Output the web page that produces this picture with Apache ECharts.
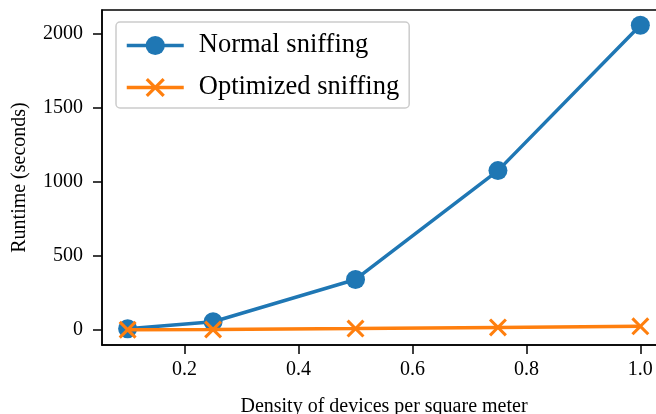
<!DOCTYPE html>
<html><head><meta charset="utf-8">
<script src="https://cdn.jsdelivr.net/npm/echarts@6/dist/echarts.min.js"></script>
<style>html,body{margin:0;padding:0;background:#fff}#c{width:656px;height:414px}</style>
</head><body><div id="c"></div>
<script>
const density = [0.1, 0.25, 0.5, 0.75, 1.0];
const normalRuntime = [8, 55, 341, 1077, 2060];
const optimizedRuntime = [1, 3, 9, 17, 24];
const xTicks = [0.2, 0.4, 0.6, 0.8, 1.0];
const yTicks = [0, 500, 1000, 1500, 2000];
const seriesNames = ['Normal sniffing', 'Optimized sniffing'];
const xLabel = 'Density of devices per square meter';
const yLabel = 'Runtime (seconds)';

const FONT = 'Liberation Serif';
const xMin = 0.055, xMax = 1.045, yMin = -102, yMax = 2163;
const crossPath = 'path://M0,1.2L1.2,0L5,3.8L8.8,0L10,1.2L6.2,5L10,8.8L8.8,10L5,6.2L1.2,10L0,8.8L3.8,5Z';
const BLUE = '#1f77b4', ORANGE = '#ff7f0e';

const chart = echarts.init(document.getElementById('c'), null, {renderer: 'canvas'});
chart.setOption({
  animation: false,
  grid: {left: 102, top: 10, width: 564, height: 335, outerBoundsMode: 'none', containLabel: false,
         show: true, borderColor: '#000', borderWidth: 1.5, backgroundColor: 'transparent'},
  legend: {
    orient: 'vertical', left: 116, top: 22,
    data: [
      {name: seriesNames[0], itemStyle: {color: BLUE}, lineStyle: {color: BLUE, width: 3.5}},
      {name: seriesNames[1], itemStyle: {color: ORANGE}, lineStyle: {color: ORANGE, width: 3.5}}
    ],
    itemWidth: 57, itemHeight: 24, itemGap: 15,
    padding: [10, 10, 7, 9],
    backgroundColor: 'rgba(255,255,255,0.8)', borderColor: '#cccccc', borderWidth: 1.5, borderRadius: 4,
    textStyle: {fontFamily: FONT, fontSize: 26.5, color: '#000', padding: [0,0,0,10]}
  },
  xAxis: {
    type: 'value', min: xMin, max: xMax,
    name: xLabel, nameLocation: 'middle', nameGap: 52,
    nameTextStyle: {fontFamily: FONT, fontSize: 20, color: '#000'},
    axisLine: {show: true, onZero: false, lineStyle: {color: '#000', width: 1.5}},
    axisTick: {show: true, customValues: xTicks, length: 9, inside: false, lineStyle: {color: '#000', width: 1.5}},
    axisLabel: {customValues: xTicks, fontFamily: FONT, fontSize: 20, color: '#000', margin: 15, formatter: v => v.toFixed(1)},
    splitLine: {show: false}
  },
  yAxis: {
    type: 'value', min: yMin, max: yMax,
    name: yLabel, nameLocation: 'middle', nameGap: 72,
    nameTextStyle: {fontFamily: FONT, fontSize: 20, color: '#000'},
    axisLine: {show: true, onZero: false, lineStyle: {color: '#000', width: 1.5}},
    axisTick: {show: true, customValues: yTicks, length: 9, lineStyle: {color: '#000', width: 1.5}},
    axisLabel: {customValues: yTicks, fontFamily: FONT, fontSize: 20, color: '#000', margin: 19, formatter: v => String(v)},
    splitLine: {show: false}
  },
  series: [
    {
      name: seriesNames[0], type: 'line',
      data: density.map((d, i) => [d, normalRuntime[i]]),
      symbol: 'circle', symbolSize: 19,
      lineStyle: {color: BLUE, width: 3.5},
      itemStyle: {color: BLUE},
      z: 2
    },
    {
      name: seriesNames[1], type: 'line',
      data: density.map((d, i) => [d, optimizedRuntime[i]]),
      symbol: crossPath, symbolSize: 18,
      lineStyle: {color: ORANGE, width: 3.5},
      itemStyle: {color: ORANGE},
      z: 3
    }
  ]
});
</script>
</body></html>
